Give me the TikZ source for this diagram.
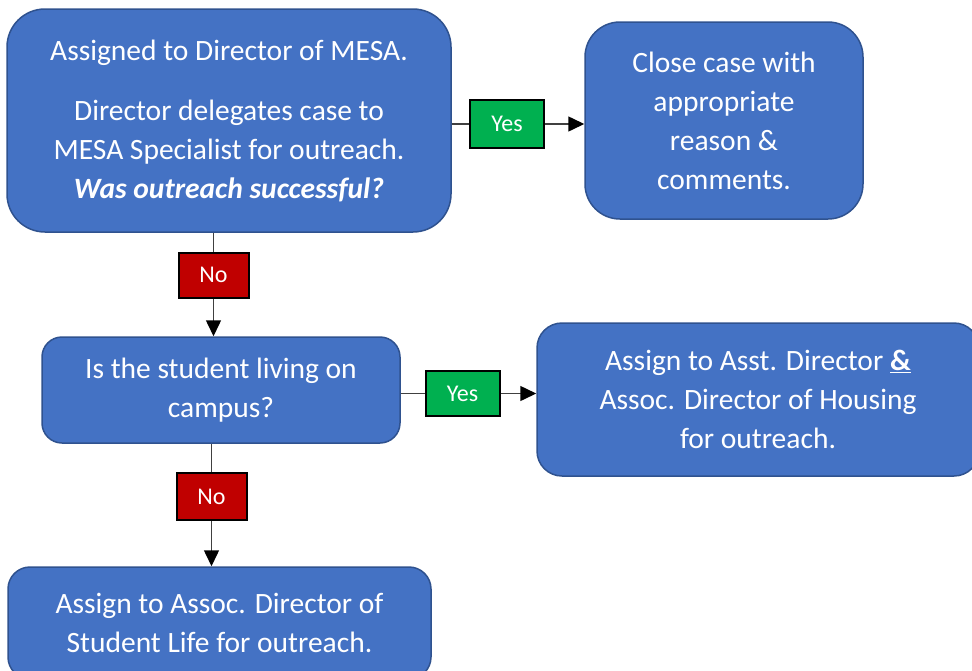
\documentclass[tikz,border=0pt]{standalone}
\usepackage{fontspec}
\setmainfont{Carlito}
\usetikzlibrary{arrows.meta}
\definecolor{boxblue}{HTML}{4472C4}
\definecolor{boxedge}{HTML}{2F528F}
\definecolor{yesgreen}{HTML}{00B050}
\definecolor{nored}{HTML}{C00000}
\definecolor{linegray}{HTML}{404040}
\tikzset{
  flowbox/.style={draw=boxedge, line width=1.5pt, fill=boxblue, text=white, align=center,
    font=\fontsize{29.5}{39}\selectfont, inner sep=0pt},
  lbl/.style={draw=black, line width=2pt, text=white, font=\fontsize{24}{28}\selectfont, inner sep=0pt,
    minimum width=74pt, minimum height=48pt},
  yeslbl/.style={lbl, fill=yesgreen},
  nolbl/.style={lbl, fill=nored, minimum width=70pt, minimum height=45pt},
  conn/.style={draw=linegray, line width=1.5pt},
  arr/.style={conn, -{Triangle[length=16pt,width=15pt,fill=black,color=black]}}
}
\begin{document}
\begin{tikzpicture}[x=1pt,y=-1pt]
\useasboundingbox (0,0) rectangle (972,670);
\clip (0,0) rectangle (972,670);
\node[flowbox, minimum width=444pt, minimum height=223pt, rounded corners=38pt] (b1) at (229,120.5)
  {Assigned to Director of MESA.\\[21pt]Director delegates case to\\MESA Specialist for outreach.\\\textbf{\textit{Was outreach successful?}}};
\node[flowbox, minimum width=278pt, minimum height=197pt, rounded corners=35pt] (b2) at (724,120.5)
  {Close case with\\appropriate\\reason \&\\comments.};
\node[flowbox, minimum width=358pt, minimum height=106pt, rounded corners=20pt] (b3) at (221,390)
  {Is the student living on\\campus?};
\node[flowbox, minimum width=442pt, minimum height=153pt, rounded corners=25pt] (b4) at (758,399.5)
  {Assign to Asst. Director \underline{\textbf{\&}}\\Assoc. Director of Housing\\for outreach.};
\node[flowbox, minimum width=423pt, minimum height=112pt, rounded corners=22pt] (b5) at (219.5,623)
  {Assign to Assoc. Director of\\Student Life for outreach.};
\node[yeslbl] (y1) at (507,124) {Yes};
\node[nolbl] (n1) at (213.5,275) {No};
\node[yeslbl, minimum height=45pt] (y2) at (462.5,393.5) {Yes};
\node[nolbl, minimum height=47pt] (n2) at (211.5,496.5) {No};
\draw[conn] (b1.east |- y1) -- (y1.west);
\draw[arr] (y1.east) -- (b2.west |- y1);
\draw[conn] (b1.south -| n1) -- (n1.north);
\draw[arr] (n1.south) -- (b3.north -| n1);
\draw[conn] (b3.east |- y2) -- (y2.west);
\draw[arr] (y2.east) -- (b4.west |- y2);
\draw[conn] (b3.south -| n2) -- (n2.north);
\draw[arr] (n2.south) -- (b5.north -| n2);
\end{tikzpicture}
\end{document}
